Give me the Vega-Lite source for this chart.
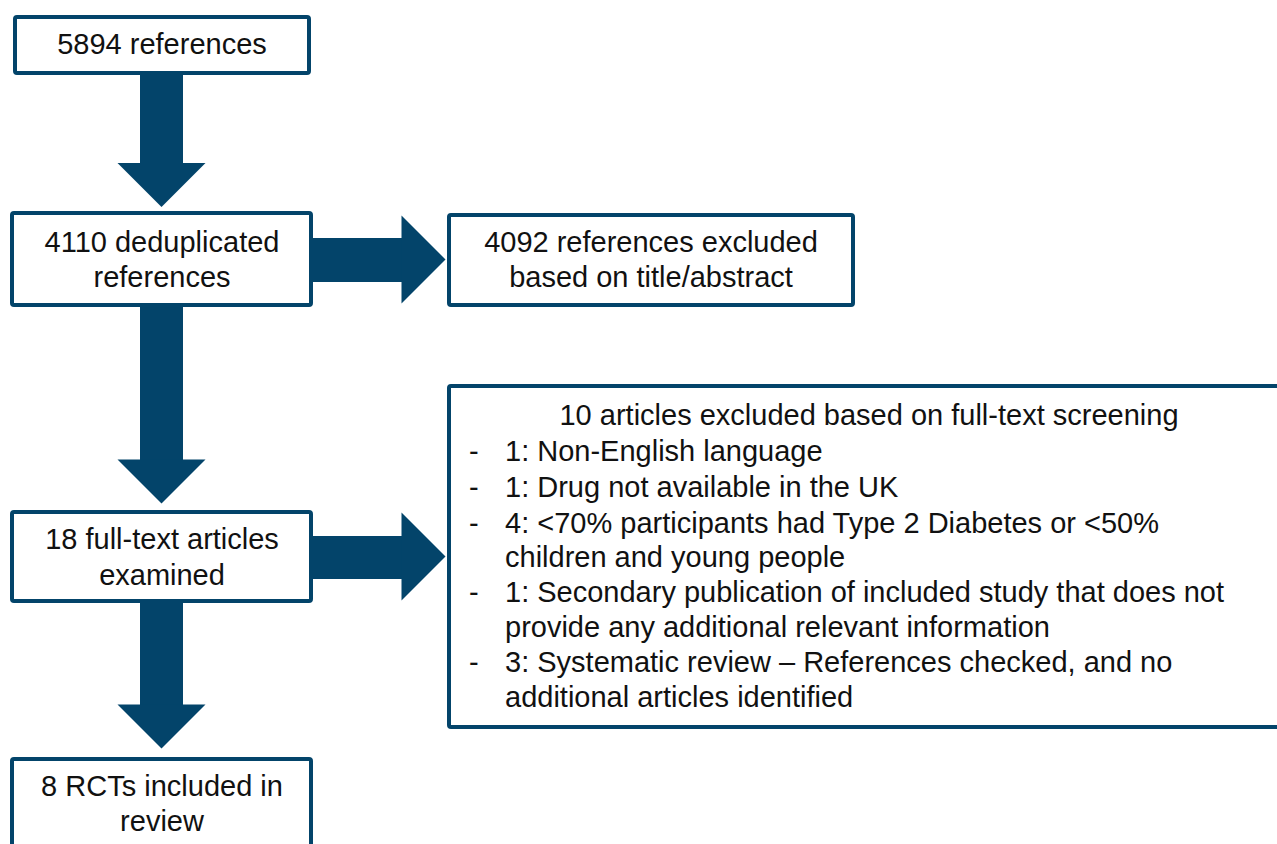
{
  "$schema": "https://vega.github.io/schema/vega-lite/v6.json",
  "width": 1277,
  "height": 844,
  "padding": 0,
  "autosize": {"type": "none"},
  "background": "white",
  "config": {"view": {"stroke": null}},
  "datasets": {
    "shafts": [
      {"x1": 140, "x2": 183, "y1": 75, "y2": 165},
      {"x1": 140, "x2": 183, "y1": 307, "y2": 462},
      {"x1": 140, "x2": 183, "y1": 603, "y2": 707},
      {"x1": 311, "x2": 404, "y1": 238, "y2": 282},
      {"x1": 311, "x2": 404, "y1": 536, "y2": 579}
    ],
    "heads": [
      {"x": 161.5, "y": 185, "dir": "down"},
      {"x": 161.5, "y": 481.5, "dir": "down"},
      {"x": 161.5, "y": 726.5, "dir": "down"},
      {"x": 423.5, "y": 259.5, "dir": "right"},
      {"x": 423.5, "y": 556.5, "dir": "right"}
    ],
    "boxes": [
      {"x1": 15, "x2": 309, "y1": 17, "y2": 73},
      {"x1": 12, "x2": 311, "y1": 213, "y2": 305},
      {"x1": 449, "x2": 853, "y1": 215, "y2": 305},
      {"x1": 12, "x2": 311, "y1": 512, "y2": 601},
      {"x1": 449, "x2": 1300, "y1": 386, "y2": 727},
      {"x1": 12, "x2": 311, "y1": 759, "y2": 880}
    ],
    "centerText": [
      {"x": 162, "y": 45, "text": "5894 references"},
      {"x": 162, "y": 243, "text": "4110 deduplicated"},
      {"x": 162, "y": 278, "text": "references"},
      {"x": 651, "y": 243, "text": "4092 references excluded"},
      {"x": 651, "y": 278, "text": "based on title/abstract"},
      {"x": 162, "y": 540, "text": "18 full-text articles"},
      {"x": 162, "y": 576, "text": "examined"},
      {"x": 162, "y": 787, "text": "8 RCTs included  in"},
      {"x": 162, "y": 822, "text": "review"},
      {"x": 869, "y": 416, "text": "10 articles excluded based on full-text screening"}
    ],
    "leftText": [
      {"x": 469, "y": 452, "text": "-"},
      {"x": 505, "y": 452, "text": "1: Non-English  language"},
      {"x": 469, "y": 488, "text": "-"},
      {"x": 505, "y": 488, "text": "1: Drug not available in the UK"},
      {"x": 469, "y": 524, "text": "-"},
      {"x": 505, "y": 524, "text": "4: <70% participants had Type 2 Diabetes or <50%"},
      {"x": 505, "y": 558, "text": "children and young people"},
      {"x": 469, "y": 593, "text": "-"},
      {"x": 505, "y": 593, "text": "1: Secondary publication of included study that does not"},
      {"x": 505, "y": 628, "text": "provide any additional relevant information"},
      {"x": 469, "y": 663, "text": "-"},
      {"x": 505, "y": 663, "text": "3: Systematic review – References checked, and no"},
      {"x": 505, "y": 698, "text": "additional  articles identified"}
    ]
  },
  "layer": [
    {
      "data": {"name": "shafts"},
      "mark": {"type": "rect", "color": "#03446a", "clip": true},
      "encoding": {
        "x": {"field": "x1", "type": "quantitative", "scale": {"domain": [0, 1277], "range": [0, 1277], "nice": false, "zero": false}, "axis": null},
        "x2": {"field": "x2"},
        "y": {"field": "y1", "type": "quantitative", "scale": {"domain": [0, 844], "range": [0, 844], "nice": false, "zero": false}, "axis": null},
        "y2": {"field": "y2"}
      }
    },
    {
      "data": {"name": "heads"},
      "mark": {"type": "point", "filled": true, "color": "#03446a", "opacity": 1, "size": 7744, "strokeWidth": 0},
      "encoding": {
        "x": {"field": "x", "type": "quantitative", "scale": {"domain": [0, 1277], "range": [0, 1277], "nice": false, "zero": false}, "axis": null},
        "y": {"field": "y", "type": "quantitative", "scale": {"domain": [0, 844], "range": [0, 844], "nice": false, "zero": false}, "axis": null},
        "shape": {"field": "dir", "type": "nominal", "scale": {"domain": ["down", "right"], "range": ["M-1,-0.5L1,-0.5L0,0.5Z", "M-0.5,-1L0.5,0L-0.5,1Z"]}, "legend": null}
      }
    },
    {
      "data": {"name": "boxes"},
      "mark": {"type": "rect", "fill": "white", "stroke": "#03446a", "strokeWidth": 4, "cornerRadius": 2, "clip": true},
      "encoding": {
        "x": {"field": "x1", "type": "quantitative", "scale": {"domain": [0, 1277], "range": [0, 1277], "nice": false, "zero": false}, "axis": null},
        "x2": {"field": "x2"},
        "y": {"field": "y1", "type": "quantitative", "scale": {"domain": [0, 844], "range": [0, 844], "nice": false, "zero": false}, "axis": null},
        "y2": {"field": "y2"}
      }
    },
    {
      "data": {"name": "centerText"},
      "mark": {"type": "text", "align": "center", "baseline": "middle", "font": "Liberation Sans", "fontSize": 29, "color": "#111111"},
      "encoding": {
        "x": {"field": "x", "type": "quantitative", "scale": {"domain": [0, 1277], "range": [0, 1277], "nice": false, "zero": false}, "axis": null},
        "y": {"field": "y", "type": "quantitative", "scale": {"domain": [0, 844], "range": [0, 844], "nice": false, "zero": false}, "axis": null},
        "text": {"field": "text"}
      }
    },
    {
      "data": {"name": "leftText"},
      "mark": {"type": "text", "align": "left", "baseline": "middle", "font": "Liberation Sans", "fontSize": 29, "color": "#111111"},
      "encoding": {
        "x": {"field": "x", "type": "quantitative", "scale": {"domain": [0, 1277], "range": [0, 1277], "nice": false, "zero": false}, "axis": null},
        "y": {"field": "y", "type": "quantitative", "scale": {"domain": [0, 844], "range": [0, 844], "nice": false, "zero": false}, "axis": null},
        "text": {"field": "text"}
      }
    }
  ]
}
